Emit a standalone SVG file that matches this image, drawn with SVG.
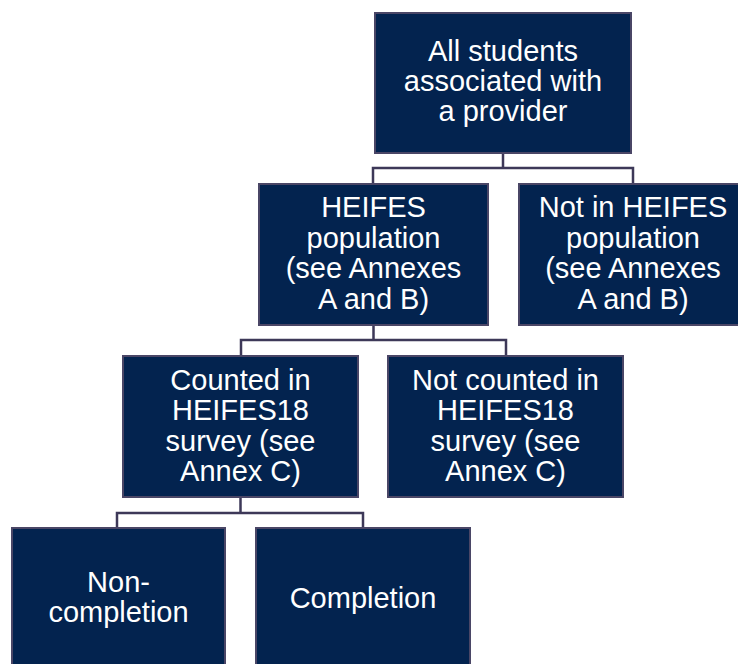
<svg xmlns="http://www.w3.org/2000/svg" width="738" height="664" viewBox="0 0 738 664">
<style>
.box{fill:#03234f;stroke:#4a4666;stroke-width:2}
.lbl{font-family:"Liberation Sans",Arial,sans-serif;font-size:29px;fill:#ffffff;text-anchor:middle}
.con{fill:none;stroke:#3d3858;stroke-width:2.5}
</style>
<rect width="738" height="664" fill="#ffffff"/>
<g id="connectors">
<path class="con" d="M503,153 V168 M373,184 V168 H633 V184"/>
<path class="con" d="M373.5,325 V340 M241,356 V340 H506 V356"/>
<path class="con" d="M240.5,497 V513 M117,528 V513 H363 V528"/>
</g>
<g id="n1"><rect class="box" x="375" y="13" width="256" height="140"/>
<text class="lbl" x="503" y="61">All students</text><text class="lbl" x="503" y="91">associated with</text><text class="lbl" x="503" y="121">a provider</text></g>
<g id="n2"><rect class="box" x="259" y="184" width="229" height="141"/>
<text class="lbl" x="373.5" y="217">HEIFES</text><text class="lbl" x="373.5" y="247.5">population</text><text class="lbl" x="373.5" y="278">(see Annexes</text><text class="lbl" x="373.5" y="308.5">A and B)</text></g>
<g id="n3"><rect class="box" x="519" y="184" width="229" height="141"/>
<text class="lbl" x="633" y="217">Not in HEIFES</text><text class="lbl" x="633" y="247.5">population</text><text class="lbl" x="633" y="278">(see Annexes</text><text class="lbl" x="633" y="308.5">A and B)</text></g>
<g id="n4"><rect class="box" x="123" y="356" width="235" height="141"/>
<text class="lbl" x="240.5" y="390">Counted in</text><text class="lbl" x="240.5" y="420">HEIFES18</text><text class="lbl" x="240.5" y="450.5">survey (see</text><text class="lbl" x="240.5" y="480.5">Annex C)</text></g>
<g id="n5"><rect class="box" x="388" y="356" width="235" height="141"/>
<text class="lbl" x="505.5" y="390">Not counted in</text><text class="lbl" x="505.5" y="420">HEIFES18</text><text class="lbl" x="505.5" y="450.5">survey (see</text><text class="lbl" x="505.5" y="480.5">Annex C)</text></g>
<g id="n6"><rect class="box" x="12" y="528" width="213" height="150"/>
<text class="lbl" x="118.5" y="592">Non-</text><text class="lbl" x="118.5" y="622">completion</text></g>
<g id="n7"><rect class="box" x="256" y="528" width="214" height="150"/>
<text class="lbl" x="363" y="608">Completion</text></g>
</svg>
